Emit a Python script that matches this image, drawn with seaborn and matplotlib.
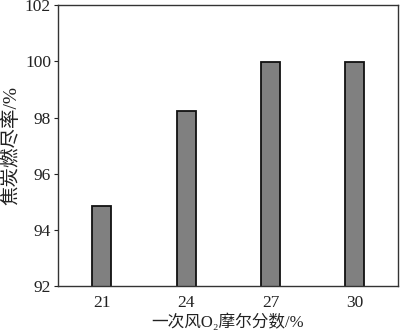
import matplotlib
matplotlib.use("Agg")
import matplotlib.pyplot as plt
import seaborn as sns
import pandas as pd

# O2 mole fraction in primary air (%) and char burnout rate (%)
o2_fraction = ["21", "24", "27", "30"]
burnout_rate = [94.85, 98.22, 99.96, 99.98]
y_ticks = [92, 94, 96, 98, 100, 102]

sns.set_theme(style="ticks")
plt.rcParams["font.family"] = ["Liberation Serif", "Noto Sans CJK SC", "DejaVu Sans"]
plt.rcParams["axes.unicode_minus"] = False

df = pd.DataFrame({"o2": o2_fraction, "rate": burnout_rate})

fig, ax = plt.subplots(figsize=(4.0, 3.35), dpi=100)
fig.subplots_adjust(left=0.145, right=0.995, top=0.985, bottom=0.145)

sns.barplot(data=df, x="o2", y="rate", order=o2_fraction, color="#808080",
            saturation=1, width=0.225, edgecolor="#111111", linewidth=1.3, ax=ax)

ax.set_ylim(92, 102)
ax.set_yticks(y_ticks)
ax.set_xlim(-0.52, 3.51)

for s in ax.spines.values():
    s.set_visible(True)
    s.set_color("#333333")
    s.set_linewidth(1.0)

ax.tick_params(axis="y", direction="out", length=3, width=0.8, labelsize=12.5,
               colors="#222222", pad=2)
ax.tick_params(axis="x", length=0, labelsize=12.5, colors="#222222", pad=6)

ax.set_xlabel("一次风O₂摩尔分数/%", fontsize=12, color="#222222", labelpad=2)
ax.set_ylabel("焦炭燃尽率/%", fontsize=14, color="#222222", labelpad=3)

fig.savefig("out.png", dpi=100, facecolor="white")
